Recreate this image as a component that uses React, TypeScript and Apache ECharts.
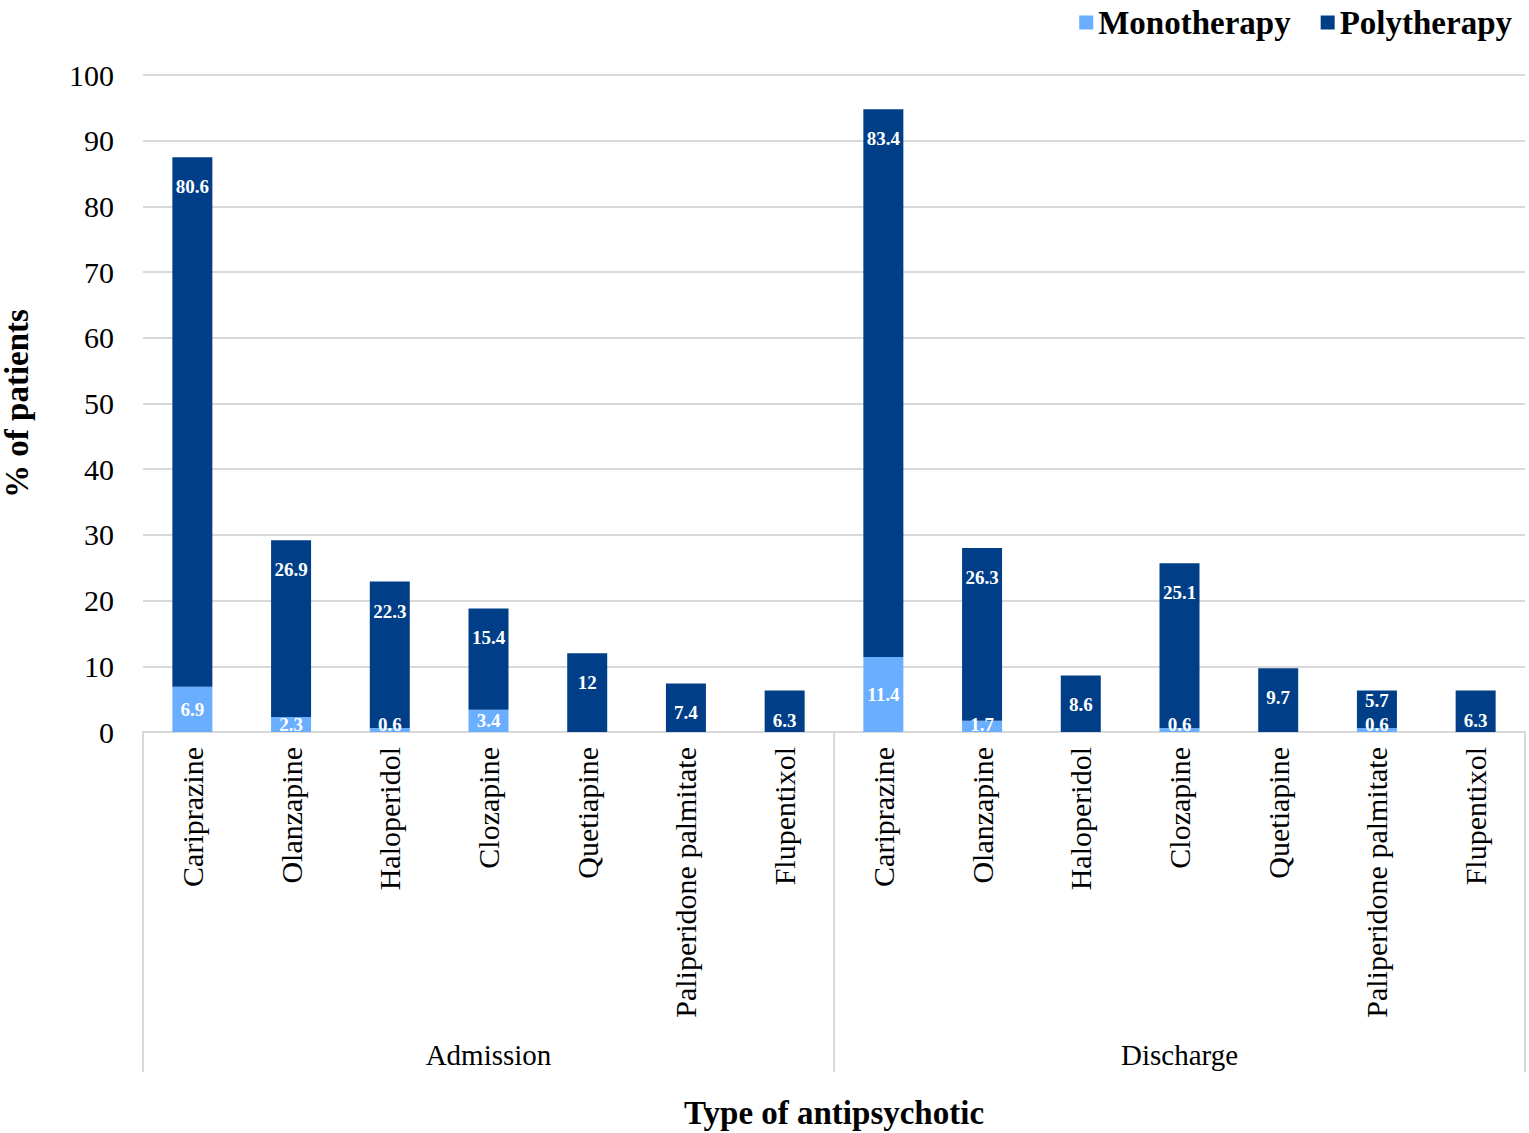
import { useEffect, useRef } from 'react';
import * as echarts from 'echarts';

// Antipsychotics, listed once per phase
const drugs = [
  'Cariprazine',
  'Olanzapine',
  'Haloperidol',
  'Clozapine',
  'Quetiapine',
  'Paliperidone palmitate',
  'Flupentixol',
];
const phases = ['Admission', 'Discharge'];

// % of patients on monotherapy (null = no bar)
const monoAdmission = [6.9, 2.3, 0.6, 3.4, null, null, null];
const monoDischarge = [11.4, 1.7, null, 0.6, null, 0.6, null];

// % of patients on polytherapy
const polyAdmission = [80.6, 26.9, 22.3, 15.4, 12, 7.4, 6.3];
const polyDischarge = [83.4, 26.3, 8.6, 25.1, 9.7, 5.7, 6.3];

const yTicks = { min: 0, max: 100, interval: 10 };

const FONT = "'Liberation Serif', 'Times New Roman', serif";
const MONO_COLOR = '#6aaeff';
const POLY_COLOR = '#003f88';
const GRID_COLOR = '#d9d9d9';

export default function App() {
  const ref = useRef<HTMLDivElement>(null);

  useEffect(() => {
    if (!ref.current) return;
    const chart = echarts.init(ref.current, undefined, { renderer: 'svg' });

    const categories = [...drugs, ...drugs];
    const mono = [...monoAdmission, ...monoDischarge];
    const poly = [...polyAdmission, ...polyDischarge];

    // Thin monotherapy slices keep their label resting on the axis
    const monoData = mono.map((v) =>
      v == null
        ? null
        : v < 3
        ? { value: v, label: { position: 'insideBottom', distance: -2 } }
        : { value: v }
    );
    // Labels sit just under the top of each polytherapy segment;
    // a short segment sitting on a labelled slice gets a tighter gap
    const polyData = poly.map((v, i) => {
      const m = mono[i];
      if (m != null && m < 3 && v < 7) {
        return { value: v, label: { distance: 0 } };
      }
      return { value: v };
    });

    const labelText = {
      color: '#ffffff',
      fontFamily: FONT,
      fontWeight: 'bold',
      fontSize: 19,
    };

    chart.setOption({
      animation: false,
      textStyle: { fontFamily: FONT },
      legend: {
        right: 12,
        top: 1,
        itemWidth: 14,
        itemHeight: 14,
        itemGap: 30,
        icon: 'rect',
        textStyle: {
          fontFamily: FONT,
          fontWeight: 'bold',
          fontSize: 33,
          color: '#000',
        },
        data: ['Monotherapy', 'Polytherapy'],
      },
      grid: {
        left: 143,
        right: 4,
        top: 75,
        bottom: 401,
        outerBoundsMode: 'none',
      },
      xAxis: [
        {
          type: 'category',
          data: categories,
          position: 'bottom',
          axisLine: { show: true, lineStyle: { color: GRID_COLOR, width: 2 } },
          axisTick: { show: false },
          axisLabel: {
            rotate: 90,
            interval: 0,
            margin: 15,
            fontFamily: FONT,
            fontSize: 30,
            color: '#000',
          },
        },
        {
          type: 'category',
          data: phases,
          position: 'bottom',
          axisLine: { show: false },
          axisTick: {
            show: true,
            length: 340,
            lineStyle: { color: GRID_COLOR, width: 2 },
          },
          axisLabel: {
            margin: 308,
            fontFamily: FONT,
            fontSize: 29,
            color: '#000',
          },
          name: 'Type of antipsychotic',
          nameLocation: 'middle',
          nameGap: 364,
          nameTextStyle: {
            fontFamily: FONT,
            fontWeight: 'bold',
            fontSize: 33,
            color: '#000',
          },
        },
      ],
      yAxis: {
        type: 'value',
        min: yTicks.min,
        max: yTicks.max,
        interval: yTicks.interval,
        axisLine: { show: false },
        axisTick: { show: false },
        splitLine: { lineStyle: { color: GRID_COLOR, width: 2 } },
        axisLabel: {
          margin: 29,
          fontFamily: FONT,
          fontSize: 30,
          color: '#000',
        },
        name: '% of patients',
        nameLocation: 'middle',
        nameGap: 110,
        nameTextStyle: {
          fontFamily: FONT,
          fontWeight: 'bold',
          fontSize: 33,
          color: '#000',
        },
      },
      series: [
        {
          name: 'Monotherapy',
          type: 'bar',
          stack: 'total',
          barWidth: 40,
          itemStyle: { color: MONO_COLOR },
          label: { show: true, position: 'inside', ...labelText },
          data: monoData,
        },
        {
          name: 'Polytherapy',
          type: 'bar',
          stack: 'total',
          barWidth: 40,
          itemStyle: { color: POLY_COLOR },
          label: { show: true, position: 'insideTop', distance: 20, ...labelText },
          data: polyData,
        },
      ],
    });

    return () => chart.dispose();
  }, []);

  return (
    <div
      ref={ref}
      style={{ position: 'absolute', left: 0, top: 0, width: 1529, height: 1133 }}
    />
  );
}
